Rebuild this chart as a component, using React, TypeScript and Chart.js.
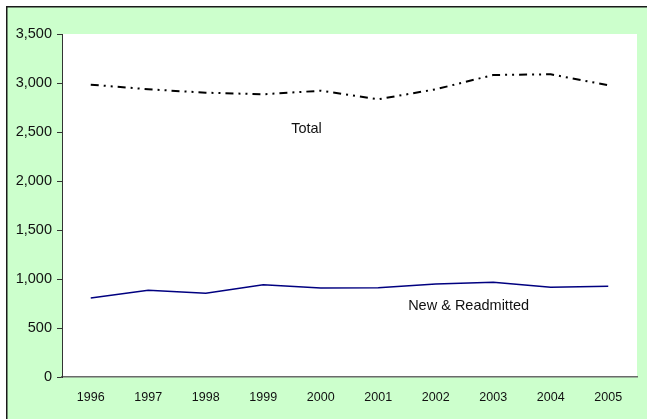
import React, { useEffect, useRef } from "react";
import { Chart, registerables } from "chart.js";

Chart.register(...registerables);

const years = ["1996", "1997", "1998", "1999", "2000", "2001", "2002", "2003", "2004", "2005"];
const totalValues = [2983, 2936, 2901, 2885, 2921, 2834, 2936, 3082, 3089, 2977];
const newReadmittedValues = [806, 885, 854, 942, 908, 911, 949, 966, 915, 925];
const seriesNames = ["Total", "New & Readmitted"];
const yMin = 0;
const yMax = 3500;
const yStep = 500;

const W = 647;
const H = 419;

const framePlugin = {
  id: "frame",
  beforeDraw(chart: any) {
    const { ctx, chartArea } = chart;
    ctx.save();
    ctx.fillStyle = "#ffffff";
    ctx.fillRect(0, 0, W, H);
    ctx.fillStyle = "#CCFFCC";
    ctx.fillRect(6, 6, W, H);
    ctx.fillStyle = "#1a1a1a";
    ctx.fillRect(6, 6, W, 1.5);
    ctx.fillRect(6, 6, 1.5, H);
    ctx.fillStyle = "#ffffff";
    ctx.fillRect(chartArea.left, chartArea.top, chartArea.right - chartArea.left, chartArea.bottom - chartArea.top);
    ctx.restore();
  },
};

const labelPlugin = {
  id: "seriesLabels",
  afterDatasetsDraw(chart: any) {
    const { ctx, scales } = chart;
    const x = scales.x;
    const y = scales.y;
    const anchors = [
      { name: seriesNames[0], xi: 3.485, yv: 2493 },
      { name: seriesNames[1], xi: 5.52, yv: 684 },
    ];
    ctx.save();
    ctx.fillStyle = "#111111";
    ctx.font = "14.5px 'Liberation Sans', Arial, sans-serif";
    ctx.textAlign = "left";
    ctx.textBaseline = "alphabetic";
    anchors.forEach((a) => {
      const px = x.getPixelForValue(0) + a.xi * (x.getPixelForValue(1) - x.getPixelForValue(0));
      ctx.fillText(a.name, px, y.getPixelForValue(a.yv));
    });
    ctx.restore();
  },
};

export default function App() {
  const ref = useRef<HTMLCanvasElement | null>(null);
  useEffect(() => {
    if (!ref.current) return;
    const chart = new Chart(ref.current, {
      type: "line",
      data: {
        labels: years,
        datasets: [
          {
            label: seriesNames[0],
            data: totalValues,
            borderColor: "#000000",
            borderWidth: 2,
            borderDash: [8, 5, 2, 5, 2, 5],
            pointRadius: 0,
            tension: 0,
            fill: false,
          },
          {
            label: seriesNames[1],
            data: newReadmittedValues,
            borderColor: "#000080",
            borderWidth: 1.5,
            pointRadius: 0,
            tension: 0,
            fill: false,
          },
        ],
      },
      options: {
        responsive: false,
        animation: false,
        devicePixelRatio: 1,
        layout: { padding: { left: 0, top: 34, right: 10, bottom: 0 } },
        plugins: { legend: { display: false }, tooltip: { enabled: false } },
        scales: {
          x: {
            offset: true,
            grid: { display: false, drawOnChartArea: false, drawTicks: false },
            border: { display: true, color: "#6a6a6a", width: 1.5 },
            ticks: {
              color: "#111111",
              padding: 13,
              maxRotation: 0,
              font: { family: "'Liberation Sans', Arial, sans-serif", size: 12.5 },
            },
            afterFit(scale: any) {
              scale.height = 42;
            },
          },
          y: {
            min: yMin,
            max: yMax,
            grid: { display: true, drawOnChartArea: false, drawTicks: true, tickLength: 5, color: "#333333" },
            border: { display: true, color: "#333333", width: 1 },
            ticks: {
              stepSize: yStep,
              color: "#111111",
              padding: 5,
              font: { family: "'Liberation Sans', Arial, sans-serif", size: 14.5 },
              callback: (v: any) => Number(v).toLocaleString("en-US"),
            },
            afterFit(scale: any) {
              scale.width = 62;
            },
          },
        },
      },
      plugins: [framePlugin, labelPlugin],
    });
    return () => chart.destroy();
  }, []);
  return (
    <div style={{ position: "absolute", left: 0, top: 0, width: W, height: H }}>
      <canvas ref={ref} width={W} height={H} style={{ display: "block", width: W, height: H }} />
    </div>
  );
}
